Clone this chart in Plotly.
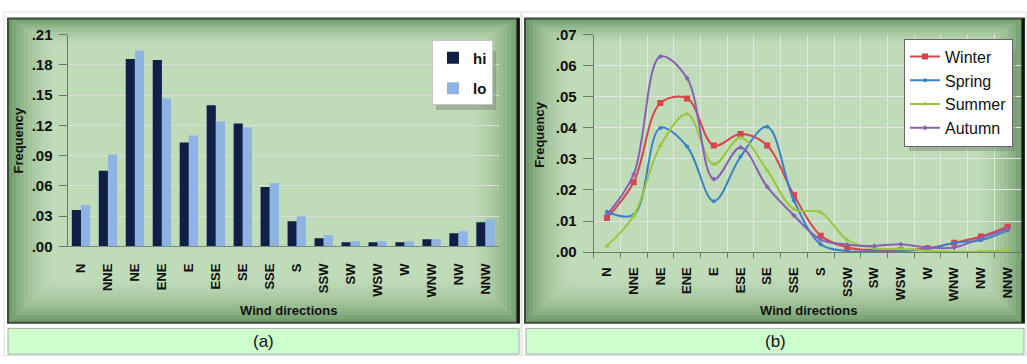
import plotly.graph_objects as go

W, H = 1027, 364

directions = ["N", "NNE", "NE", "ENE", "E", "ESE", "SE", "SSE",
              "S", "SSW", "SW", "WSW", "W", "WNW", "NW", "NNW"]

# (a) wind-direction frequency, high and low groups
hi = [0.036, 0.075, 0.186, 0.185, 0.103, 0.140, 0.122, 0.059,
      0.025, 0.008, 0.004, 0.004, 0.004, 0.007, 0.013, 0.024]
lo = [0.041, 0.091, 0.194, 0.147, 0.110, 0.124, 0.118, 0.063,
      0.030, 0.011, 0.005, 0.005, 0.005, 0.007, 0.015, 0.027]

# (b) seasonal wind-direction frequency
winter = [0.011, 0.0225, 0.048, 0.0495, 0.0343, 0.038, 0.0343, 0.0183,
          0.0053, 0.0015, 0.0006, 0.0006, 0.0012, 0.003, 0.005, 0.0082]
spring = [0.013, 0.012, 0.040, 0.034, 0.0164, 0.0307, 0.0404, 0.0166,
          0.0025, 0.0003, 0.0002, 0.0003, 0.001, 0.003, 0.0038, 0.007]
summer = [0.002, 0.0117, 0.0343, 0.0445, 0.0283, 0.0368, 0.0263, 0.0138,
          0.0128, 0.0039, 0.0012, 0.001, 0.0005, 0.0001, 0.0002, 0.0007]
autumn = [0.012, 0.025, 0.063, 0.056, 0.0235, 0.0337, 0.021, 0.0118,
          0.004, 0.0024, 0.002, 0.0025, 0.0015, 0.0015, 0.0045, 0.0075]

ticks_a = [0.00, 0.03, 0.06, 0.09, 0.12, 0.15, 0.18, 0.21]
ticks_b = [0.00, 0.01, 0.02, 0.03, 0.04, 0.05, 0.06, 0.07]
ticktext_a = [".00", ".03", ".06", ".09", ".12", ".15", ".18", ".21"]
ticktext_b = [".00", ".01", ".02", ".03", ".04", ".05", ".06", ".07"]

FONT = "Liberation Sans, Arial, sans-serif"


def px(x):
    return x / W


def py(y):
    return 1 - y / H


fig = go.Figure()

fig.add_trace(go.Bar(x=directions, y=hi, name="hi", marker_color="#0f1f45",
                     marker_line_width=0, xaxis="x", yaxis="y",
                     legend="legend", legendgroup="hi"))
fig.add_trace(go.Bar(x=directions, y=lo, name="lo", marker_color="#8db4e2",
                     marker_line_width=0, xaxis="x", yaxis="y",
                     legend="legend", legendgroup="lo"))

seasons = [
    ("Winter", winter, "#d9434c", "square", 6),
    ("Spring", spring, "#3b82c8", "circle", 4),
    ("Summer", summer, "#9cc63c", "triangle-up", 5),
    ("Autumn", autumn, "#8661b4", "diamond", 4),
]
for name, vals, col, sym, size in seasons:
    fig.add_trace(go.Scatter(
        x=directions, y=vals, name=name, mode="lines+markers",
        line=dict(color=col, width=2, shape="spline", smoothing=1.0),
        marker=dict(symbol=sym, size=size, color=col),
        xaxis="x2", yaxis="y2", legend="legend2"))

# green framed panels with a soft vignette
shapes = []
panels = [(8, 10, 519, 329), (525, 10, 1024, 329)]
for (x0, y0, x1, y1) in panels:
    shapes.append(dict(type="rect", xref="paper", yref="paper", layer="below",
                       x0=px(x0), x1=px(x1), y0=py(y1), y1=py(y0),
                       fillcolor="#6f9c6a", line_width=0))
    for i in range(1, 12):
        d = 4 * i
        shapes.append(dict(type="rect", xref="paper", yref="paper", layer="below",
                           x0=px(x0 + d), x1=px(x1 - d), y0=py(y1 - d), y1=py(y0 + d * 0.6),
                           fillcolor="rgba(214,240,206,0.13)", line_width=0))
    shapes.append(dict(type="rect", xref="paper", yref="paper", layer="below",
                       x0=px(x0), x1=px(x1), y0=py(y1), y1=py(y0),
                       fillcolor="rgba(0,0,0,0)", line=dict(color="#3c4a3c", width=2)))
    shapes.append(dict(type="line", xref="paper", yref="paper", layer="below",
                       x0=px(x1 - 1), x1=px(x1 - 1), y0=py(y1), y1=py(y0),
                       line=dict(color="#101510", width=3)))

# caption cells
captions = [(8, 519, "(a)"), (526, 1024, "(b)")]
annotations = []
for x0, x1, label in captions:
    shapes.append(dict(type="rect", xref="paper", yref="paper", layer="below",
                       x0=px(x0), x1=px(x1), y0=py(362), y1=py(335),
                       fillcolor="#ccffcc", line=dict(color="#a8a8a8", width=1)))
    annotations.append(dict(text=label, xref="paper", yref="paper",
                            x=px((x0 + x1) / 2), y=py(349), showarrow=False,
                            font=dict(family=FONT, size=17, color="#111111"),
                            xanchor="center", yanchor="middle"))

# outer table cell borders
for x0, x1 in [(4, 521), (522, 1026)]:
    shapes.append(dict(type="rect", xref="paper", yref="paper", layer="below",
                       x0=px(x0), x1=px(x1), y0=py(363.5), y1=py(3),
                       fillcolor="rgba(0,0,0,0)", line=dict(color="#dddddd", width=1)))

# legend drop shadows (drawn above the plot area, legends sit on top of them)
for (x0, y0, x1, y1) in [(436, 44, 496, 106), (909, 44, 1016, 149)]:
    shapes.append(dict(type="rect", xref="paper", yref="paper", layer="above",
                       x0=px(x0), x1=px(x1), y0=py(y1), y1=py(y0),
                       fillcolor="rgba(120,130,120,0.45)", line_width=0))

for xc in [288, 808]:
    annotations.append(dict(text="Wind directions", xref="paper", yref="paper", x=px(xc), y=py(316),
                            showarrow=False, xanchor="center", yanchor="middle",
                            font=dict(family=FONT, size=13, color="#111111", weight="bold")))
for xc, yc in [(19, 138), (540, 132)]:
    annotations.append(dict(text="Frequency", xref="paper", yref="paper", x=px(xc), y=py(yc),
                            showarrow=False, textangle=-90, xanchor="center", yanchor="middle",
                            font=dict(family=FONT, size=13, color="#111111", weight="bold")))

tickfont_y = dict(family=FONT, size=15, color="#111111", weight="bold")
tickfont_x = dict(family=FONT, size=13, color="#111111", weight="bold")

fig.update_layout(
    width=W, height=H,
    margin=dict(l=0, r=0, t=0, b=0),
    paper_bgcolor="white", plot_bgcolor="white",
    barmode="group", bargap=0.32, bargroupgap=0.0,
    shapes=shapes, annotations=annotations,
    xaxis=dict(domain=[px(67.5), px(499)], anchor="y", range=[-0.5, 15.5],
               tickangle=-90, tickfont=tickfont_x, ticks="", showline=True,
               linecolor="#7a8a7a", linewidth=1, ticklabelstandoff=11,
               showgrid=False, zeroline=False),
    yaxis=dict(domain=[py(249), py(27)], anchor="x", range=[0, 0.21],
               tickvals=ticks_a, ticktext=ticktext_a, tickfont=tickfont_y,
               ticks="outside", ticklen=8, tickcolor="#6a7a6a",
               showline=True, linecolor="#6a7a6a", linewidth=1,
               showgrid=True, gridcolor="#dcdcdc", gridwidth=1, zeroline=False,
               ticklabelstandoff=3),
    xaxis2=dict(domain=[px(593.6), px(1021)], anchor="y2", range=[-0.5, 15.5],
                tickangle=-90, tickfont=tickfont_x, ticks="outside", ticklen=5,
                tickson="boundaries", tickcolor="#6a7a6a", showline=True,
                linecolor="#6a7a6a", linewidth=1, showgrid=True,
                gridcolor="#e4e4e4", gridwidth=1, zeroline=False,
                ticklabelstandoff=9),
    yaxis2=dict(domain=[py(255), py(27)], anchor="x2", range=[0, 0.07],
                tickvals=ticks_b, ticktext=ticktext_b, tickfont=tickfont_y,
                ticks="outside", ticklen=10, tickcolor="#6a7a6a",
                showline=True, linecolor="#6a7a6a", linewidth=1,
                showgrid=True, gridcolor="#e4e4e4", gridwidth=1, zeroline=False,
                ticklabelstandoff=3),
    legend=dict(x=px(493), y=py(33), xanchor="right", yanchor="top",
                bgcolor="white", bordercolor="#c8c8c8", borderwidth=1,
                font=dict(family=FONT, size=15, color="#111111", weight="bold"),
                tracegroupgap=8, itemwidth=30),
    legend2=dict(x=px(1013), y=py(31), xanchor="right", yanchor="top",
                 bgcolor="white", bordercolor="#666666", borderwidth=1,
                 font=dict(family=FONT, size=16, color="#111111"),
                 tracegroupgap=0, itemwidth=30),
    showlegend=True,
)

fig.write_html("out.html")
